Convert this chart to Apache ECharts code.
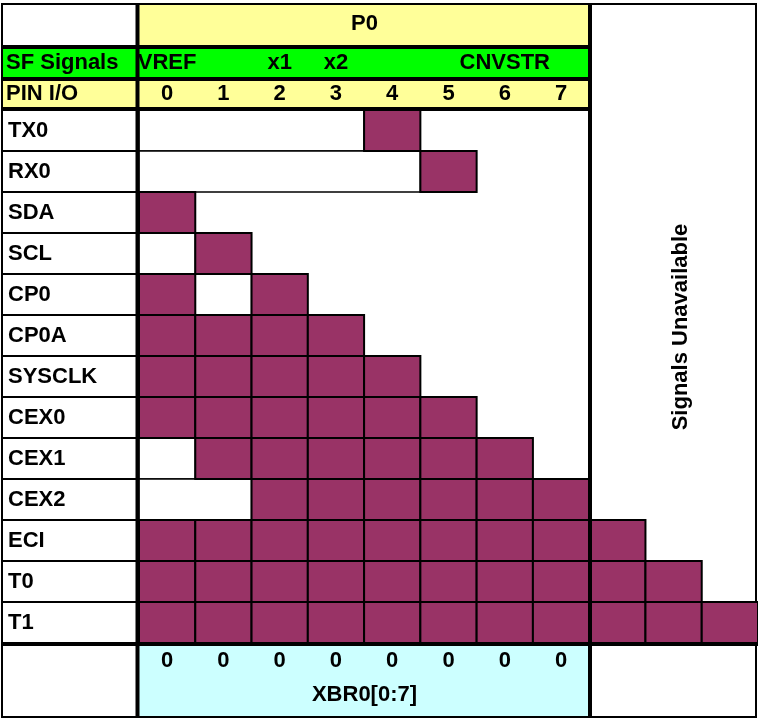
<!DOCTYPE html>
<html>
<head>
<meta charset="utf-8">
<script src="https://cdn.jsdelivr.net/npm/echarts@6/dist/echarts.min.js"></script>
<style>
  html, body { margin: 0; padding: 0; background: #fff; }
  #chart { width: 758px; height: 719px; }
</style>
</head>
<body>
<div id="chart"></div>
<script>
// rows of the priority table, top to bottom
const signals = ['TX0', 'RX0', 'SDA', 'SCL', 'CP0', 'CP0A', 'SYSCLK', 'CEX0', 'CEX1', 'CEX2', 'ECI', 'T0', 'T1']
// columns: P0.0 - P0.7, then 3 columns past the port
const pins = ['0', '1', '2', '3', '4', '5', '6', '7', '', '', '']
const sfSignals = ['VREF', '', 'x1', 'x2', '', '', 'CNVSTR', '', '', '', '']
const xbr0Bits = ['0', '0', '0', '0', '0', '0', '0', '0', '', '', '']
// pin columns each signal can be routed to
const assigned = [
  [4],
  [5],
  [0],
  [1],
  [0, 2],
  [0, 1, 2, 3],
  [0, 1, 2, 3, 4],
  [0, 1, 2, 3, 4, 5],
  [1, 2, 3, 4, 5, 6],
  [2, 3, 4, 5, 6, 7],
  [0, 1, 2, 3, 4, 5, 6, 7, 8],
  [0, 1, 2, 3, 4, 5, 6, 7, 8, 9],
  [0, 1, 2, 3, 4, 5, 6, 7, 8, 9, 10]
]

const FONT = 'Liberation Sans, Arial, sans-serif'
const FS = 22
const PURPLE = '#993366'

// [colStart, colEnd, row, filled]; empty runs left of a filled cell get a bordered white block
const cells = []
assigned.forEach((cols, r) => {
  const last = Math.max(...cols)
  let start = null
  for (let c = 0; c <= last; c++) {
    if (cols.includes(c)) {
      if (start !== null) {
        cells.push([start, c - 1, r, 0])
        start = null
      }
    } else if (start === null) {
      start = c
    }
  }
})
assigned.forEach((cols, r) => {
  cols.forEach(c => cells.push([c, c, r, 1]))
})

// table frame
const gL = 139, gT = 110, gB = 643, split = 590

const labelStyle = {
  color: '#000',
  fontFamily: FONT,
  fontWeight: 'bold',
  fontSize: FS
}

function hLine(x1, x2, y, w) {
  return { type: 'line', z: 100, shape: { x1, y1: y, x2, y2: y }, style: { stroke: '#000', lineWidth: w } }
}
function vLine(x, y1, y2, w) {
  return { type: 'line', z: 100, shape: { x1: x, y1, x2: x, y2 }, style: { stroke: '#000', lineWidth: w } }
}
function fill(x, y, width, height, color) {
  return { type: 'rect', z: 0, shape: { x, y, width, height }, style: { fill: color } }
}
function label(text, x, y, align, extra) {
  return Object.assign({
    type: 'text', z: 110, x, y,
    style: { text, align, verticalAlign: 'middle', fill: '#000', font: 'bold ' + FS + 'px ' + FONT }
  }, extra || {})
}

const chart = echarts.init(document.getElementById('chart'))

const option = {
  animation: false,
  backgroundColor: '#fff',
  grid: { left: gL, top: gT, right: 0, bottom: 719 - gB },
  xAxis: [
    {
      type: 'category',
      data: pins,
      position: 'top',
      axisLine: { show: false },
      axisTick: { show: false },
      splitLine: { show: false },
      axisLabel: Object.assign({ interval: 0, margin: 16, verticalAlign: 'middle' }, labelStyle)
    },
    {
      type: 'category',
      data: sfSignals,
      position: 'top',
      axisLine: { show: false },
      axisTick: { show: false },
      splitLine: { show: false },
      axisLabel: Object.assign({ interval: 0, margin: 47, verticalAlign: 'middle' }, labelStyle)
    },
    {
      type: 'category',
      data: xbr0Bits,
      position: 'bottom',
      axisLine: { show: false },
      axisTick: { show: false },
      splitLine: { show: false },
      axisLabel: Object.assign({ interval: 0, margin: 18, verticalAlign: 'middle' }, labelStyle)
    }
  ],
  yAxis: {
    type: 'category',
    data: signals,
    inverse: true,
    axisLine: { show: false },
    axisTick: { show: true, length: gL - 2, lineStyle: { color: '#000', width: 2 } },
    splitLine: { show: false },
    axisLabel: Object.assign({ align: 'left', margin: gL - 8 }, labelStyle)
  },
  graphic: [
    fill(gL, 4, split - gL, 43, '#FFFF99'),
    fill(2, 47, split - 2, 32, '#00FF00'),
    fill(2, 79, split - 2, 31, '#FFFF99'),
    fill(gL, gB, split - gL, 717 - gB, '#CCFFFF'),
    { type: 'rect', z: 1, shape: { x: 2, y: 4, width: 754, height: 713 }, style: { fill: null, stroke: '#000', lineWidth: 2 } },
    vLine(137.5, 4, 717, 4),
    vLine(590, 4, 717, 4),
    hLine(2, split, 47, 4),
    hLine(2, split, 79, 4),
    hLine(2, split, 109, 4),
    hLine(2, 758, gB + 1, 4),
    label('P0', (gL + split) / 2, 24, 'center'),
    label('SF Signals', 6, 63, 'left'),
    label('PIN I/O', 6, 94, 'left'),
    label('XBR0[0:7]', (gL + split) / 2, 695, 'center'),
    label('Signals Unavailable', 681, 327, 'center', { rotation: Math.PI / 2 })
  ],
  series: [
    {
      type: 'custom',
      xAxisIndex: 0,
      yAxisIndex: 0,
      encode: { x: [0, 1], y: 2 },
      data: cells,
      renderItem: function (params, api) {
        const p = api.coord([api.value(0), api.value(2)])
        const size = api.size([1, 1])
        const span = api.value(1) - api.value(0) + 1
        const on = api.value(3) === 1
        return {
          type: 'rect',
          shape: { x: p[0] - size[0] / 2, y: p[1] - size[1] / 2, width: size[0] * span, height: size[1] },
          style: { fill: on ? PURPLE : '#fff', stroke: '#000', lineWidth: on ? 2 : 1.5 }
        }
      }
    }
  ]
}

option && chart.setOption(option)
</script>
</body>
</html>
